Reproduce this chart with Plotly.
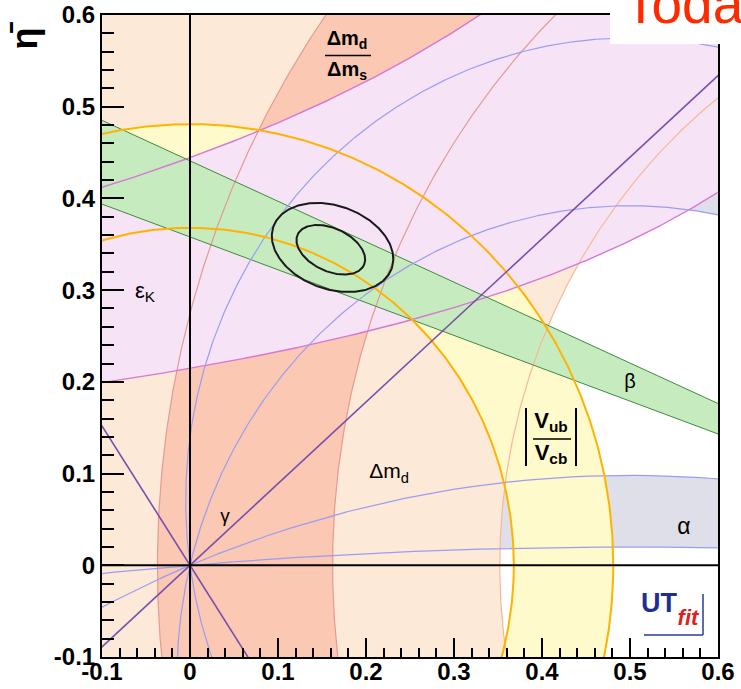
import numpy as np
import plotly.graph_objects as go

# ---------------- data ----------------
x_ticks = [-0.1, 0.0, 0.1, 0.2, 0.3, 0.4, 0.5, 0.6]
x_ticklabels = ["-0.1", "0", "0.1", "0.2", "0.3", "0.4", "0.5", "0.6"]
y_ticks = [-0.1, 0.0, 0.1, 0.2, 0.3, 0.4, 0.5, 0.6]
y_ticklabels = ["-0.1", "0", "0.1", "0.2", "0.3", "0.4", "0.5", "0.6"]

# Δm_d band: circles about (1,0)  [inner, outer radius]
dmd_radii = [0.648, 1.40]
# Δm_d/Δm_s band: circles about (1,0)
dms_radii = [0.838, 1.037]
# |Vub/Vcb| band: circles about (0,0)
vub_radii = [0.368, 0.481]
# εK band: hyperbolas  η = A / (B - ρ)
epsk_A = [0.2728, 0.5649]
epsk_B = 1.271
# β band: lines through (1,0), η = t (1 - ρ)
beta_t = [0.358, 0.441]
# α: circles through (0,0) and (1,0), given by their top heights; bands pair them
alpha_tops = [0.020, 0.098, 0.392, 0.575]
alpha_bands = [(0, 1), (2, 3)]
# γ: lines through the origin (slopes)
gamma_slopes = [0.89, -1.52]
# fit contours (ellipses): centre x, centre y, semi-major, semi-minor, angle (deg)
cont_cx = [0.160, 0.162]
cont_cy = [0.344, 0.3465]
cont_a = [0.0412, 0.0710]
cont_b = [0.0236, 0.0456]
cont_ang = [-23.0, -17.8]

# ---------------- colours ----------------
C_DMD = "#FDE9D8"
C_DMS = "#FAC8B3"
C_VUB = "#FFFACB"
C_EPS = "#F6E3F6"
C_BETA = "#C6EBBE"
C_ALPHA = "#DFDFEA"
L_DMD = "#F8B898"
L_DMS = "#E59A92"
L_VUB = "#FFB300"
L_EPS = "#D876D6"
L_BETA = "#3F8A3F"
L_ALPHA = "#9C9CF2"
L_GAMMA = "#7A4EAE"

W, H = 741, 689
ML, MR, MT, MB = 102, 23, 15, 32
PW, PH = W - ML - MR, H - MT - MB
XR = [-0.1, 0.6]
YR = [-0.1, 0.6]


def px(xp):
    return (xp - ML) / PW


def py(yp):
    return (H - MB - yp) / PH


def dx(xp):
    return XR[0] + px(xp) * (XR[1] - XR[0])


def dy(yp):
    return YR[0] + py(yp) * (YR[1] - YR[0])


fig = go.Figure()


def add_fill(x, y, color):
    fig.add_trace(go.Scatter(x=x, y=y, mode="lines", fill="toself", fillcolor=color,
                             line=dict(width=0), hoverinfo="skip", showlegend=False))


def add_line(x, y, color, width):
    fig.add_trace(go.Scatter(x=x, y=y, mode="lines", line=dict(color=color, width=width),
                             hoverinfo="skip", showlegend=False))


def annulus(cx, cy, r1, r2, t0, t1, n=600):
    t = np.linspace(t0, t1, n)
    xo, yo = cx + r2 * np.cos(t), cy + r2 * np.sin(t)
    xi, yi = cx + r1 * np.cos(t[::-1]), cy + r1 * np.sin(t[::-1])
    return np.concatenate([xo, xi, xo[:1]]), np.concatenate([yo, yi, yo[:1]])


def circle(cx, cy, r, n):
    t = np.linspace(0, 2 * np.pi, n)
    return cx + r * np.cos(t), cy + r * np.sin(t)


def alpha_circle(h):
    k = (h * h - 0.25) / (2 * h)
    return 0.5, k, np.sqrt(0.25 + k * k)


def alpha_upper(h, xs):
    cx, k, r = alpha_circle(h)
    return k + np.sqrt(np.clip(r * r - (xs - cx) ** 2, 0, None))


# ---- α fills (bottom layer) ----
for i, j in alpha_bands:
    xs = np.linspace(-0.1 if i == 0 else 0.0, 0.6, 500)
    ylo = alpha_upper(alpha_tops[i], xs)
    yhi = alpha_upper(alpha_tops[j], xs)
    add_fill(np.concatenate([xs, xs[::-1]]), np.concatenate([yhi, ylo[::-1]]), C_ALPHA)

# ---- Δm_d ----
x, y = annulus(1.0, 0.0, dmd_radii[0], dmd_radii[1], np.pi / 2, 3 * np.pi / 2)
add_fill(x, y, C_DMD)
# ---- Δm_d/Δm_s ----
x, y = annulus(1.0, 0.0, dms_radii[0], dms_radii[1], np.pi / 2, 3 * np.pi / 2)
add_fill(x, y, C_DMS)
# ---- |Vub/Vcb| ----
x, y = annulus(0.0, 0.0, vub_radii[0], vub_radii[1], 0, 2 * np.pi, 800)
add_fill(x, y, C_VUB)
# ---- εK ----
xe = np.linspace(-0.12, 0.62, 400)
ylo = epsk_A[0] / (epsk_B - xe)
yhi = epsk_A[1] / (epsk_B - xe)
add_fill(np.concatenate([xe, xe[::-1]]), np.concatenate([yhi, ylo[::-1]]), C_EPS)
# ---- β ----
xb = np.array([-0.12, 0.62])
add_fill(np.concatenate([xb, xb[::-1]]),
         np.concatenate([beta_t[1] * (1 - xb), (beta_t[0] * (1 - xb))[::-1]]), C_BETA)

# ---- edges ----
for r in dmd_radii:
    x, y = circle(1.0, 0.0, r, 1500)
    add_line(x, y, L_DMD, 1.2)
for r in dms_radii:
    x, y = circle(1.0, 0.0, r, 1500)
    add_line(x, y, L_DMS, 1.2)
for A in epsk_A:
    add_line(xe, A / (epsk_B - xe), L_EPS, 1.4)
for t in beta_t:
    add_line(xb, t * (1 - xb), L_BETA, 1.0)
for h in alpha_tops:
    cx, k, r = alpha_circle(h)
    x, y = circle(cx, k, r, 40000 if r > 1 else 2000)
    add_line(x, y, L_ALPHA, 1.2)
for r in vub_radii:
    x, y = circle(0.0, 0.0, r, 1200)
    add_line(x, y, L_VUB, 2.0)
for s in gamma_slopes:
    xg = np.array([-0.2, 0.7])
    add_line(xg, s * xg, L_GAMMA, 1.6)

# ---- fit contours ----
tt = np.linspace(0, 2 * np.pi, 300)
for cx, cy, a, b, ang in zip(cont_cx, cont_cy, cont_a, cont_b, cont_ang):
    ph = np.deg2rad(ang)
    xc = cx + a * np.cos(tt) * np.cos(ph) - b * np.sin(tt) * np.sin(ph)
    yc = cy + a * np.cos(tt) * np.sin(ph) + b * np.sin(tt) * np.cos(ph)
    add_line(xc, yc, "#1a1a1a", 2.0)

# ---- in-plot labels (text traces) ----
labels = [
    # text, x px, y px, size, color
    ("<b>Δm<sub>d</sub></b>", 347, 40, 20, "black"),
    ("<b>Δm<sub>s</sub></b>", 347, 71, 20, "black"),
    ("ε<sub>K</sub>", 145, 292, 22, "black"),
    ("β", 630, 383, 20, "black"),
    ("<b>V<sub>ub</sub></b>", 551, 422, 22, "black"),
    ("<b>V<sub>cb</sub></b>", 551, 454, 22, "black"),
    ("Δm<sub>d</sub>", 389, 473, 21, "black"),
    ("γ", 225, 517, 19, "black"),
    ("α", 684, 528, 23, "black"),
    ("<b>UT</b>", 659, 605, 27, "#1f2f8f"),
    ("<b><i>fit</i></b>", 688, 619, 22, "#e02020"),
]
for txt, xp_, yp_, sz, col in labels:
    fig.add_trace(go.Scatter(x=[dx(xp_)], y=[dy(yp_)], mode="text", text=[txt],
                             textposition="middle center", cliponaxis=False,
                             textfont=dict(family="Liberation Sans", size=sz, color=col),
                             hoverinfo="skip", showlegend=False))

# ---------------- layout ----------------
tickfont = dict(family="Liberation Sans", size=24, color="black", weight="bold")
axis_common = dict(ticks="inside", tickwidth=2, tickcolor="black",
                   showline=True, linewidth=2, linecolor="black", mirror=True,
                   showgrid=False, zeroline=False, tickfont=tickfont, tickmode="array",
                   automargin=False)

fig.update_layout(
    width=W, height=H, margin=dict(l=ML, r=MR, t=MT, b=MB, autoexpand=False),
    paper_bgcolor="white", plot_bgcolor="white", showlegend=False,
    xaxis=dict(**axis_common, range=XR, tickvals=x_ticks, ticktext=x_ticklabels, ticklen=19,
               ticklabelstandoff=-8,
               minor=dict(dtick=0.02, tick0=0, ticks="inside", ticklen=9, tickwidth=2,
                          tickcolor="black")),
    yaxis=dict(**axis_common, range=YR, tickvals=y_ticks, ticktext=y_ticklabels, ticklen=22,
               minor=dict(dtick=0.02, tick0=0, ticks="inside", ticklen=12, tickwidth=2,
                          tickcolor="black")),
)

shapes = [
    dict(type="line", xref="x", yref="paper", x0=0, x1=0, y0=0, y1=1,
         line=dict(color="black", width=2), layer="above"),
    dict(type="line", xref="paper", yref="y", x0=0, x1=1, y0=0, y1=0,
         line=dict(color="black", width=2), layer="above"),
    # fraction bars
    dict(type="line", xref="paper", yref="paper", x0=px(325), x1=px(371), y0=py(55.5), y1=py(55.5),
         line=dict(color="black", width=1.5), layer="above"),
    dict(type="line", xref="paper", yref="paper", x0=px(533), x1=px(571), y0=py(439), y1=py(439),
         line=dict(color="black", width=1.5), layer="above"),
    dict(type="line", xref="paper", yref="paper", x0=px(526), x1=px(526), y0=py(408), y1=py(466),
         line=dict(color="black", width=2), layer="above"),
    dict(type="line", xref="paper", yref="paper", x0=px(576), x1=px(576), y0=py(408), y1=py(466),
         line=dict(color="black", width=2), layer="above"),
    # UTfit logo frame
    dict(type="line", xref="paper", yref="paper", x0=px(644), x1=px(703), y0=py(635), y1=py(635),
         line=dict(color="#2a3a9a", width=1.5), layer="above"),
    dict(type="line", xref="paper", yref="paper", x0=px(703), x1=px(703), y0=py(635), y1=py(594),
         line=dict(color="#2a3a9a", width=1.5), layer="above"),
    # white box of the "Today" title
    dict(type="rect", xref="paper", yref="paper", x0=px(610), x1=px(745), y0=py(44), y1=py(-5),
         line=dict(width=0), fillcolor="white", layer="above"),
]
fig.update_layout(shapes=shapes)

ann = [
    dict(x=px(2), y=py(20), text="<b>η̄</b>", textangle=-90,
         font=dict(family="Liberation Sans", size=36, color="black")),
    dict(x=px(622), y=py(4), text="Today", xanchor="left", yanchor="middle",
         font=dict(family="Liberation Sans", size=55, color="#ff2a00")),
]
for a in ann:
    a.setdefault("xref", "paper")
    a.setdefault("yref", "paper")
    a.setdefault("showarrow", False)
fig.update_layout(annotations=ann)

fig.write_html("out.html")
